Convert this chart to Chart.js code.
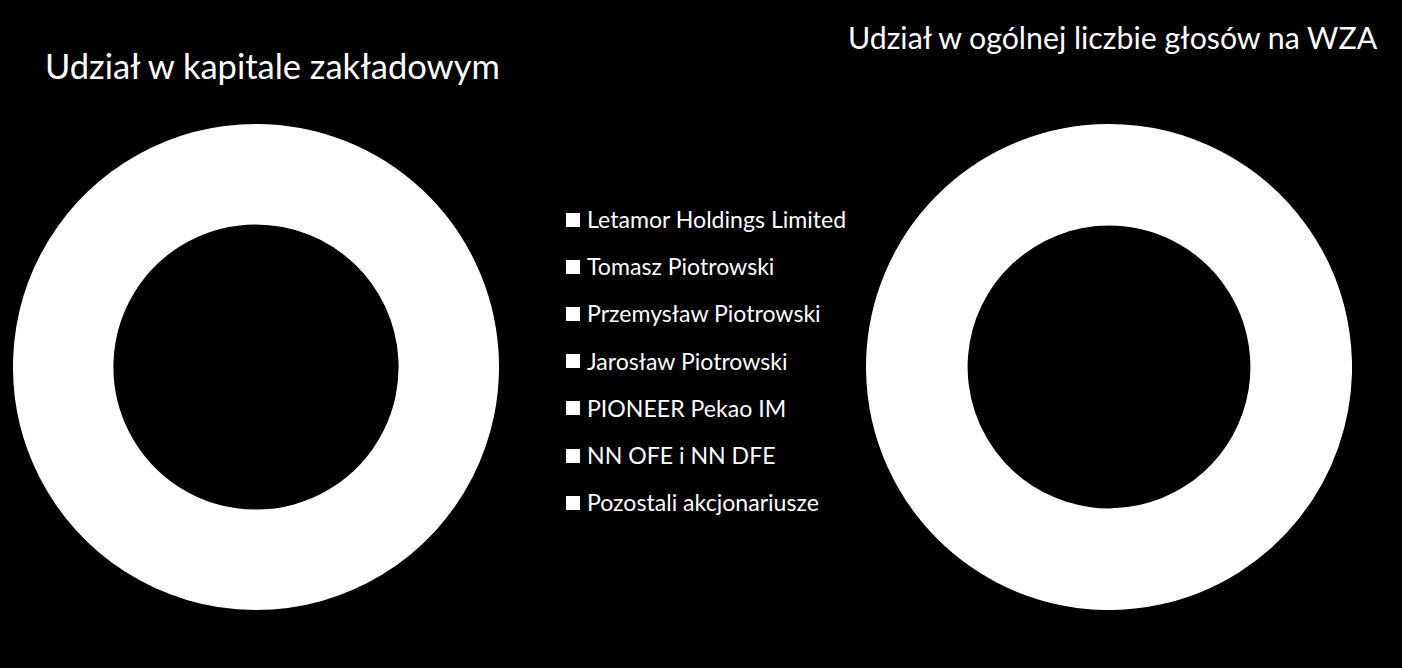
<!DOCTYPE html>
<html>
<head>
<meta charset="utf-8">
<script src="https://cdn.jsdelivr.net/npm/chart.js@4"></script>
<style>
  html, body { margin: 0; padding: 0; background: #000; }
  #stage { position: relative; width: 1402px; height: 668px; background: #000; overflow: hidden; font-family: Lato, "Open Sans", sans-serif; color: #fff; }
  .title { position: absolute; white-space: nowrap; color: #fff; line-height: 1.2; }
  #t1 { left: 45px; top: 45px; font-size: 34.5px; }
  #t2 { left: 848px; top: 19px; font-size: 30.3px; }
  .box { position: absolute; }
  #c1box { left: 13px; top: 124px; width: 486px; height: 486px; }
  #c2box { left: 866px; top: 124px; width: 486px; height: 486px; }
  #legend { position: absolute; left: 566px; top: 196px; }
  .li { height: 47.2px; display: flex; align-items: center; font-size: 23.1px; line-height: 1; white-space: nowrap; }
  .sw { width: 14px; height: 14px; background: #fff; margin-right: 7px; flex: none; }
</style>
</head>
<body>
<div id="stage">
  <div class="title" id="t1"></div>
  <div class="title" id="t2"></div>
  <div class="box" id="c1box"><canvas id="c1"></canvas></div>
  <div class="box" id="c2box"><canvas id="c2"></canvas></div>
  <div id="legend"></div>
</div>
<script>
const titles = ["Udział w kapitale zakładowym", "Udział w ogólnej liczbie głosów na WZA"];
const shareholders = [
  "Letamor Holdings Limited",
  "Tomasz Piotrowski",
  "Przemysław Piotrowski",
  "Jarosław Piotrowski",
  "PIONEER Pekao IM",
  "NN OFE i NN DFE",
  "Pozostali akcjonariusze"
];
// Estimated shares (%) - slices are all drawn in one colour, values are approximate
const capitalShares = [24.0, 8.5, 8.8, 8.8, 9.0, 8.4, 32.5];
const voteShares = [30.3, 10.7, 11.1, 11.1, 6.7, 6.3, 23.8];
const sliceColor = "#ffffff";

document.getElementById('t1').textContent = titles[0];
document.getElementById('t2').textContent = titles[1];

const legend = document.getElementById('legend');
shareholders.forEach(name => {
  const row = document.createElement('div');
  row.className = 'li';
  const sw = document.createElement('span');
  sw.className = 'sw';
  const tx = document.createElement('span');
  tx.textContent = name;
  row.appendChild(sw); row.appendChild(tx);
  legend.appendChild(row);
});

function makeChart(id, values, cut) {
  return new Chart(document.getElementById(id), {
    type: 'doughnut',
    data: {
      labels: shareholders,
      datasets: [{
        data: values,
        backgroundColor: shareholders.map(() => sliceColor),
        borderColor: shareholders.map(() => sliceColor),
        borderWidth: 2.5,
        hoverOffset: 0,
        offset: 0
      }]
    },
    options: {
      responsive: true,
      maintainAspectRatio: false,
      animation: false,
      cutout: cut,
      layout: { padding: 0 },
      plugins: { legend: { display: false }, tooltip: { enabled: false }, title: { display: false } }
    }
  });
}
makeChart('c1', capitalShares, '59.5%');
makeChart('c2', voteShares, '59%');
</script>
</body>
</html>
